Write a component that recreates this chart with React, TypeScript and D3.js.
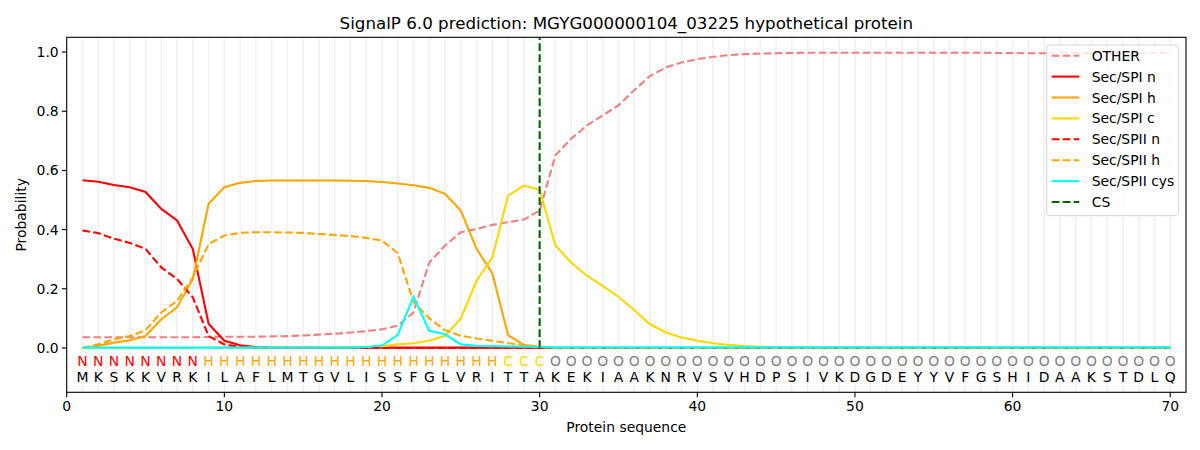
import * as d3 from 'd3'
import { useEffect } from 'react'

// Protein residues and per-residue predicted region labels
const residues = 'MKSKKVRKILAFLMTGVLISSFGLVRITTAKEKIAAKNRVSVHDPSIVKDGDEYYVFGSHIDAAKSTDLQ'.split('')
const regions = 'NNNNNNNNHHHHHHHHHHHHHHHHHHHCCCOOOOOOOOOOOOOOOOOOOOOOOOOOOOOOOOOOOOOOOO'.split('')

const zeros = (n: number) => new Array(n).fill(0)

const other = [
  0.036, 0.036, 0.036, 0.036, 0.036, 0.036, 0.036, 0.036, 0.037, 0.038,
  0.038, 0.038, 0.039, 0.04, 0.042, 0.045, 0.048, 0.052, 0.057, 0.063,
  0.075, 0.12, 0.289, 0.346, 0.391, 0.402, 0.416, 0.425, 0.434, 0.464,
  0.651, 0.707, 0.752, 0.786, 0.82, 0.871, 0.919, 0.948, 0.965, 0.976,
  0.984, 0.99, 0.993, 0.995, 0.996, 0.997, 0.998, 0.998, 0.998, 0.998,
  0.998, 0.998, 0.998, 0.998, 0.998, 0.998, 0.998, 0.998, 0.997, 0.997,
  0.996, 0.996, 0.996, 0.996, 0.996, 0.996, 0.996, 0.996, 0.997, 0.998,
]
const spiN = [
  0.567, 0.562, 0.551, 0.543, 0.527, 0.47, 0.431, 0.334, 0.082, 0.024,
  0.009, 0.003, 0.001, 0.001, 0.001, 0.001, 0.001, 0.001, 0.001, 0.001,
  0.001, 0.001, 0.001, 0.001, 0.001, 0.001, 0.001, 0.001, 0.001, 0.001,
  ...zeros(40),
]
const spiH = [
  0, 0.007, 0.018, 0.026, 0.04, 0.097, 0.137, 0.233, 0.487, 0.543,
  0.558, 0.564, 0.566, 0.566, 0.566, 0.566, 0.566, 0.565, 0.564, 0.561,
  0.556, 0.55, 0.541, 0.521, 0.464, 0.335, 0.252, 0.043, 0.01, 0.003,
  ...zeros(40),
]
const spiC = [
  0, 0, 0, 0, 0, 0, 0, 0, 0.001, 0.001,
  0.001, 0.001, 0.001, 0.001, 0.001, 0.002, 0.002, 0.002, 0.003, 0.006,
  0.012, 0.016, 0.024, 0.041, 0.1, 0.227, 0.306, 0.515, 0.549, 0.535,
  0.346, 0.289, 0.244, 0.21, 0.173, 0.128, 0.08, 0.052, 0.035, 0.024,
  0.016, 0.01, 0.006, 0.004, 0.002, 0.001, 0.001, 0.001, 0.001, 0.001,
  0.001, 0.001, 0.001, 0.001, 0.001, 0.001, 0.001, 0.001, 0.001, 0.001,
  0.001, 0.001, 0.001, 0.001, 0.001, 0.001, 0.001, 0.001, 0.001, 0.001,
]
const spiiN = [
  0.397, 0.388, 0.369, 0.355, 0.335, 0.272, 0.233, 0.171, 0.04, 0.012,
  0.003, 0.001, ...zeros(58),
]
const spiiH = [
  0, 0.012, 0.029, 0.04, 0.06, 0.12, 0.159, 0.238, 0.351, 0.38,
  0.389, 0.391, 0.391, 0.39, 0.389, 0.385, 0.382, 0.378, 0.372, 0.363,
  0.32, 0.155, 0.1, 0.06, 0.041, 0.032, 0.024, 0.016, 0.01, 0.005,
  ...zeros(40),
]
const spiiCys = [
  0.001, 0.001, 0.001, 0.001, 0.001, 0.001, 0.001, 0.001, 0.001, 0.001,
  0.001, 0.001, 0.001, 0.001, 0.001, 0.001, 0.001, 0.001, 0.003, 0.008,
  0.044, 0.173, 0.058, 0.046, 0.012, 0.007, 0.006, 0.005, 0.004, 0.003,
  ...new Array(40).fill(0.002),
]
const cleavageSite = 30

const series = [
  { name: 'OTHER', values: other, color: '#f08080', dashed: true },
  { name: 'Sec/SPI n', values: spiN, color: '#ff0000', dashed: false },
  { name: 'Sec/SPI h', values: spiH, color: '#ffa500', dashed: false },
  { name: 'Sec/SPI c', values: spiC, color: '#ffd700', dashed: false },
  { name: 'Sec/SPII n', values: spiiN, color: '#ff0000', dashed: true },
  { name: 'Sec/SPII h', values: spiiH, color: '#ffa500', dashed: true },
  { name: 'Sec/SPII cys', values: spiiCys, color: '#00ffff', dashed: false },
]
const regionColor: Record<string, string> = { N: '#ff0000', H: '#ffa500', C: '#ffd700', O: '#808080' }

const xTicks = [0, 10, 20, 30, 40, 50, 60, 70]
const yTicks = [0, 0.2, 0.4, 0.6, 0.8, 1.0]

const width = 1200
const height = 450
const margin = { left: 66.7, right: 14, top: 37.3, bottom: 57.7 }
const font = '"DejaVu Sans", sans-serif'
const dash = '7.7,3.3'

export default function App() {
  useEffect(() => {
    document.body.style.margin = '0'
  }, [])

  const x = d3.scaleLinear().domain([0, 71]).range([margin.left, width - margin.right])
  const y = d3.scaleLinear().domain([-0.15, 1.05]).range([height - margin.bottom, margin.top])
  const line = d3
    .line<number>()
    .x((_, i) => x(i + 1))
    .y(d => y(d))

  const legendX = 1046.7
  const legendY = 45
  const legendItems = [...series, { name: 'CS', color: '#006400', dashed: true }]

  return (
    <svg width={width} height={height} style={{ display: 'block', fontFamily: font }}>
      <rect width={width} height={height} fill="#fff" />
      <text x={(margin.left + width - margin.right) / 2} y={29} fontSize={16.7} textAnchor="middle" fill="#000">
        SignalP 6.0 prediction: MGYG000000104_03225 hypothetical protein
      </text>

      {/* residue grid lines */}
      {residues.map((_, i) => (
        <line key={'g' + i} x1={x(i + 1)} x2={x(i + 1)} y1={y(1.05)} y2={y(-0.15)} stroke="#f0f0f0" strokeWidth={1.5} />
      ))}

      {series.map(s => (
        <path
          key={s.name}
          d={line(s.values) ?? ''}
          fill="none"
          stroke={s.color}
          strokeWidth={2.1}
          strokeDasharray={s.dashed ? dash : undefined}
        />
      ))}

      <line x1={x(cleavageSite)} x2={x(cleavageSite)} y1={y(0)} y2={y(1.05)} stroke="#006400" strokeWidth={2.1} strokeDasharray={dash} />

      {regions.map((r, i) => (
        <text key={'r' + i} x={x(i + 1)} y={y(-0.045)} fontSize={13.9} textAnchor="middle" dominantBaseline="central" fill={regionColor[r]}>
          {r}
        </text>
      ))}
      {residues.map((r, i) => (
        <text key={'a' + i} x={x(i + 1)} y={y(-0.098)} fontSize={13.9} textAnchor="middle" dominantBaseline="central" fill="#000">
          {r}
        </text>
      ))}

      {/* axes frame */}
      <rect
        x={margin.left}
        y={margin.top}
        width={width - margin.left - margin.right}
        height={height - margin.top - margin.bottom}
        fill="none"
        stroke="#000"
        strokeWidth={1.1}
      />
      {xTicks.map(t => (
        <g key={'x' + t}>
          <line x1={x(t)} x2={x(t)} y1={y(-0.15)} y2={y(-0.15) + 4.9} stroke="#000" strokeWidth={1.1} />
          <text x={x(t)} y={y(-0.15) + 8} fontSize={13.9} textAnchor="middle" dominantBaseline="hanging" fill="#000">
            {t}
          </text>
        </g>
      ))}
      {yTicks.map(t => (
        <g key={'y' + t}>
          <line x1={margin.left - 4.9} x2={margin.left} y1={y(t)} y2={y(t)} stroke="#000" strokeWidth={1.1} />
          <text x={margin.left - 8} y={y(t)} fontSize={13.9} textAnchor="end" dominantBaseline="central" fill="#000">
            {d3.format('.1f')(t)}
          </text>
        </g>
      ))}
      <text x={(margin.left + width - margin.right) / 2} y={432} fontSize={13.9} textAnchor="middle" fill="#000">
        Protein sequence
      </text>
      <text transform={`translate(26,${(margin.top + height - margin.bottom) / 2}) rotate(-90)`} fontSize={13.9} textAnchor="middle" fill="#000">
        Probability
      </text>

      {/* legend */}
      <rect x={legendX} y={legendY} width={131.6} height={170.7} rx={3} fill="#fff" fillOpacity={0.8} stroke="#d6d6d6" strokeWidth={1} />
      {legendItems.map((s, i) => {
        const ly = 55.7 + i * 20.9
        return (
          <g key={'l' + s.name}>
            <line x1={1051.7} x2={1079.3} y1={ly} y2={ly} stroke={s.color} strokeWidth={2.1} strokeDasharray={s.dashed ? dash : undefined} />
            <text x={1091.7} y={ly} fontSize={13.9} dominantBaseline="central" fill="#000">
              {s.name}
            </text>
          </g>
        )
      })}
    </svg>
  )
}
